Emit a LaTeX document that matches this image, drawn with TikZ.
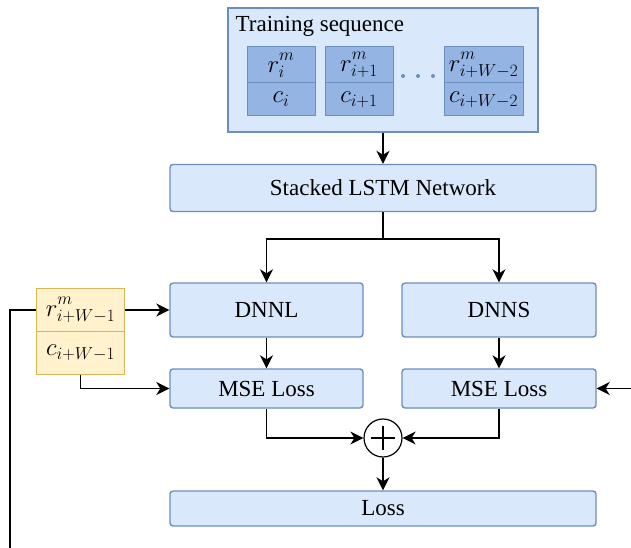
\documentclass[tikz,border=0pt]{standalone}
\usepackage{fontspec}
\setmainfont{Liberation Serif}
\usetikzlibrary{arrows.meta}
\usetikzlibrary{positioning}

\definecolor{bluefill}{HTML}{DAE8FC}
\definecolor{blueline}{HTML}{6C8EBF}
\definecolor{cellfill}{HTML}{94B4E3}
\definecolor{yelfill}{HTML}{FFF2CC}
\definecolor{yelline}{HTML}{D6B656}
\newcommand{\rsym}[1]{r^{m\vphantom{g}}_{\vphantom{A}#1}}

\begin{document}
\begin{tikzpicture}
[x=1pt,y=-1pt,>={Stealth[length=13pt,width=13pt,inset=4pt]},line width=1.4pt,%
  blk/.style={draw=blueline,fill=bluefill,rounded corners=3pt,inner sep=0pt},
  cell/.style={draw=blueline,fill=cellfill,line width=1pt,inner sep=0pt,minimum width=68pt,
    font=\fontsize{23}{25}\selectfont},
  yel/.style={draw=yelline,fill=yelfill,line width=1pt,inner sep=0pt,minimum width=88pt,minimum height=43pt,
    font=\fontsize{25}{27}\selectfont}]
\fontsize{23}{25}\selectfont
\useasboundingbox (0,0) rectangle (631,548);
%% training sequence
\node[draw=blueline,fill=bluefill,minimum width=310pt,minimum height=124pt,inner sep=0pt] (train) at (383,70) {};
\node[anchor=north west,inner sep=0pt] (title) at (235,16) {Training sequence};
\node[cell,minimum height=36pt] (r1) at (281,65) {$\rsym{i}$};
\node[cell,minimum height=33pt] (c1) at (281,99.5) {$c_i$};
\node[cell,minimum height=36pt] (r2) at (359,65) {$\rsym{i+1}$};
\node[cell,minimum height=33pt] (c2) at (359,99.5) {$c_{i+1}$};
\node[cell,minimum height=36pt,minimum width=79pt] (r3) at (483.5,65) {$\rsym{i+W-2}$};
\node[cell,minimum height=33pt,minimum width=79pt] (c3) at (483.5,99.5) {$c_{i+W-2}$};
\foreach \x in {403,418,433}
  \fill[blueline] (\x,76) circle (2pt);
%% network blocks
\node[blk,minimum width=426pt,minimum height=47pt] (lstm) at (383,188) {Stacked LSTM Network};
\node[blk,minimum width=193pt,minimum height=54pt] (dnnl) at (266.5,310) {DNNL};
\node[blk,minimum width=194pt,minimum height=54pt] (dnns) at (499,310) {DNNS};
\node[blk,minimum width=193pt,minimum height=39pt] (msel) at (266.5,388.5) {MSE Loss};
\node[blk,minimum width=194pt,minimum height=39pt] (mser) at (499,388.5) {MSE Loss};
\node[draw,circle,minimum size=38pt,inner sep=0pt,line width=1.2pt,
  path picture={\draw[line width=1.2pt] (path picture bounding box.center) ++(-12,0) -- ++(24,0)
  (path picture bounding box.center) ++(0,-12) -- ++(0,24);}] (plus) at (383,438) {};
\node[blk,minimum width=426pt,minimum height=35pt] (loss) at (383,508.5) {Loss};
%% current step
\node[yel] (yr) at (80.5,310) {$\rsym{i+W-1}$};
\node[yel] (yc) at (80.5,353) {$c_{i+W-1}$};
\coordinate (split) at (383,239);
\coordinate (fb) at (10,548);
\coordinate (fr) at (631,388.5);
%% connections
\draw[->] (train) -- (lstm);
\draw (lstm) -- (split);
\draw[->] (split) -| (dnnl);
\draw[->] (split) -| (dnns);
\draw[->] (dnnl) -- (msel);
\draw[->] (dnns) -- (mser);
\draw[->] (yr) -- (dnnl);
\draw[->] (yc.south) |- (msel);
\draw (yr.west) -| (fb);
\draw[->] (fr) -- (mser);
\draw[->] (msel) |- (plus);
\draw[->] (mser) |- (plus);
\draw[->] (plus) -- (loss);
\end{tikzpicture}
\end{document}
